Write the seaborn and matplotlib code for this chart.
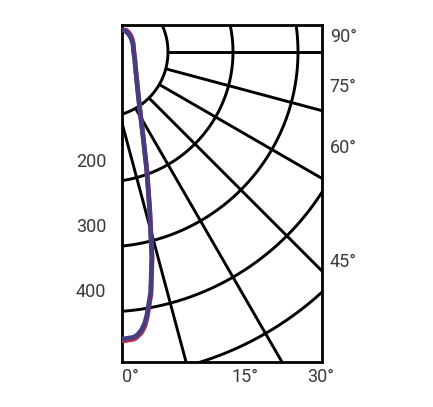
import numpy as np
import pandas as pd
import matplotlib
matplotlib.use("Agg")
import matplotlib.pyplot as plt
from matplotlib.ticker import FixedLocator, FixedFormatter
import seaborn as sns

# ---------------- data ----------------
# gamma angle from nadir (deg)
angles = [0, 0.6, 1.25, 1.9, 2.5, 3.1, 3.75, 4.4, 5, 6.25, 7.5, 8.75, 10, 11.25,
          12.5, 15, 20, 25, 30, 35, 40, 45, 50, 60, 70, 80, 90]
# luminous intensity (cd) for the two C-planes
intensity_c0 = [475, 475, 474, 473.5, 472, 468, 462, 453, 440, 406, 352, 280, 220, 165,
                128, 92, 60, 45, 35, 30, 25, 21, 17, 11, 6, 3, 1]
intensity_c90 = [478, 478, 477, 476.5, 475, 471, 466, 457, 444, 409, 354, 281, 221, 166,
                 129, 93, 61, 46, 36, 31, 27, 23, 20, 15, 11, 8, 6]
plane_names = ["C90-C270", "C0-C180"]
plane_colors = ["#b83050", "#463c80"]

ring_values = [100, 200, 300, 400, 500]
ray_angles = [0, 15, 30, 45, 60, 75, 90]

y_tick_values = [200, 300, 400]
y_tick_labels = ["200", "300", "400"]
bottom_labels = ["0°", "15°", "30°"]
right_labels = ["90°", "75°", "60°", "45°"]

# ---------------- layout ----------------
W, H = 433, 407
S = 0.65                      # px per cd
AX_L, AX_R, AX_T, AX_B = 122, 322, 25, 362
POLE_PX = (122, 30)           # curve pole (pixels)
GRID_PX = (103, 52)           # grid pole (pixels)
BOTTOM_PX = [130, 245, 321]   # bottom label centres (pixels)
RIGHT_PX = [35, 85, 146, 260] # right label centres (pixels)

def px_to_x(px):
    return (px - POLE_PX[0]) / S

def py_to_y(py):
    return (py - POLE_PX[1]) / S

sns.set_theme(style="white")
plt.rcParams["font.family"] = ["Roboto", "DejaVu Sans"]

fig = plt.figure(figsize=(W / 100, H / 100), dpi=100)
fig.patch.set_facecolor("white")
ax = fig.add_axes([AX_L / W, (H - AX_B) / H, (AX_R - AX_L) / W, (AX_B - AX_T) / H])
ax.set_xlim(px_to_x(AX_L), px_to_x(AX_R))
ax.set_ylim(py_to_y(AX_B), py_to_y(AX_T))

# grid: rings and rays around the grid pole
gx0, gy0 = px_to_x(GRID_PX[0]), py_to_y(GRID_PX[1])
t = np.linspace(0, 2 * np.pi, 721)
for r in ring_values:
    ax.plot(gx0 + r * np.cos(t), gy0 + r * np.sin(t), color="black", lw=2.1,
            solid_capstyle="butt", zorder=1)
for a in ray_angles:
    ar = np.deg2rad(a)
    rr = np.array([ring_values[0], 2000])
    ax.plot(gx0 + rr * np.sin(ar), gy0 + rr * np.cos(ar), color="black", lw=2.1,
            solid_capstyle="butt", zorder=1)

# intensity curves
frames = []
for name, vals in zip(plane_names, [intensity_c90, intensity_c0]):
    g = np.deg2rad(np.array(angles))
    v = np.array(vals, dtype=float)
    frames.append(pd.DataFrame({"x": v * np.sin(g), "y": v * np.cos(g),
                                "plane": name}))
df = pd.concat(frames, ignore_index=True)
sns.lineplot(data=df, x="x", y="y", hue="plane", hue_order=plane_names,
             palette=plane_colors, sort=False, estimator=None, units="plane",
             legend=False, linewidth=3.4, ax=ax, zorder=3)
for ln in ax.get_lines()[-2:]:
    ln.set_solid_joinstyle("round")
    ln.set_solid_capstyle("round")

for sp in ax.spines.values():
    sp.set_visible(True)
    sp.set_color("black")
    sp.set_linewidth(2.0)
ax.set_xlabel("")
ax.set_ylabel("")

txt = dict(color="#3a3a3a", fontsize=13, fontweight="normal")
ax.yaxis.set_major_locator(FixedLocator(y_tick_values))
ax.yaxis.set_major_formatter(FixedFormatter(y_tick_labels))
ax.xaxis.set_major_locator(FixedLocator([px_to_x(p) for p in BOTTOM_PX]))
ax.xaxis.set_major_formatter(FixedFormatter(bottom_labels))
ax.tick_params(axis="both", length=0)
ax.tick_params(axis="y", pad=11.5)
ax.tick_params(axis="x", pad=4)
for lab in ax.get_xticklabels() + ax.get_yticklabels():
    lab.set(**txt)

ax2 = ax.twinx()
ax2.set_ylim(ax.get_ylim())
ax2.yaxis.set_major_locator(FixedLocator([py_to_y(p) for p in RIGHT_PX]))
ax2.yaxis.set_major_formatter(FixedFormatter(right_labels))
ax2.tick_params(axis="y", length=0, pad=5.5)
for lab in ax2.get_yticklabels():
    lab.set(**txt)
for sp in ax2.spines.values():
    sp.set_visible(False)
ax2.grid(False)
ax.grid(False)

fig.savefig("out.png", dpi=100, facecolor="white")
